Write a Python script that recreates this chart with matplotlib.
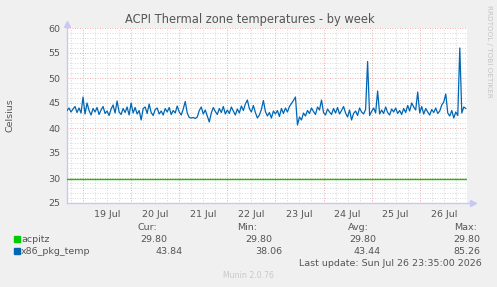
import numpy as np
import matplotlib
matplotlib.use("Agg")
import matplotlib.pyplot as plt

# hours relative to 19 Jul 00:00, one sample per hour
hours = np.arange(-8, 192)

acpitz_value = 29.80

x86_pkg_temp = [
    # 18 Jul 16:00 - 23:00
    43.5, 44.0, 43.2, 43.8, 44.3, 43.1, 44.0, 43.0,
    # 19 Jul
    46.2, 42.8, 45.0, 43.5, 42.6, 43.9, 43.2, 44.1, 42.7, 43.6, 44.3, 42.9,
    43.4, 42.5, 43.8, 44.6, 43.0, 45.4, 43.2, 42.7, 43.9, 43.1, 44.2, 42.6,
    # 20 Jul
    45.0, 43.0, 44.1, 42.8, 43.5, 41.6, 43.9, 44.2, 42.9, 44.8, 43.1, 42.5,
    43.7, 44.0, 42.8, 43.4, 42.6, 43.9, 43.2, 44.1, 42.7, 43.5, 43.0, 44.4,
    # 21 Jul
    43.2, 42.6, 43.8, 45.3, 43.0, 42.1, 42.0, 42.1, 41.9, 42.2, 43.5, 44.2,
    42.8, 43.6, 42.4, 41.2, 43.0, 44.1, 43.3, 42.7, 43.9, 43.1, 44.3, 42.8,
    # 22 Jul
    43.6, 42.9, 44.2, 43.4, 42.6, 43.8, 43.0, 44.4, 43.5, 44.8, 45.6, 43.9,
    43.2, 44.5, 43.1, 42.0, 42.6, 43.7, 45.5, 43.3, 42.4, 43.1, 42.0, 43.4,
    # 23 Jul
    42.8, 43.5, 42.3, 43.9, 42.9, 44.0, 43.2, 44.3, 44.9, 45.5, 46.2, 40.6,
    42.2, 41.6, 43.0, 42.4, 43.5, 42.9, 44.0, 43.3, 42.7, 44.2, 43.6, 45.6,
    # 24 Jul
    43.1, 42.6, 43.8, 43.2, 42.7, 43.9, 43.0, 44.1, 42.8, 43.5, 44.3, 43.0,
    42.2, 43.6, 41.6, 42.9, 43.4, 42.5, 44.0, 43.2, 42.8, 43.7, 53.3, 42.5,
    # 25 Jul
    43.3, 44.0, 43.0, 47.4, 42.8, 43.6, 42.9, 44.2, 43.1, 42.6, 43.8, 43.2,
    44.0, 42.9, 43.5, 42.7, 43.9, 43.1, 44.5, 43.4, 45.0, 44.2, 43.6, 47.2,
    # 26 Jul
    43.0, 44.3, 42.8, 43.9, 43.2, 42.6, 43.7, 43.1, 44.0, 42.9, 43.4, 44.6,
    45.2, 46.8, 43.0, 42.4, 43.5, 42.0, 43.2, 42.5, 56.0, 43.0, 44.2, 43.9,
]

day_labels = ["19 Jul", "20 Jul", "21 Jul", "22 Jul", "23 Jul", "24 Jul", "25 Jul", "26 Jul"]
series_names = ["acpitz", "x86_pkg_temp"]
series_colors = ["#00cc00", "#0066b3"]
stats = {
    "acpitz": ["29.80", "29.80", "29.80", "29.80"],
    "x86_pkg_temp": ["43.84", "38.06", "43.44", "85.26"],
}

W, H = 497, 287
BG = "#f0f0f0"


def fx(px):
    return px / W


def fy(py):
    return 1 - py / H


fig = plt.figure(figsize=(W / 100, H / 100), dpi=100, facecolor=BG)
ax = fig.add_axes([fx(67), fy(203), fx(467) - fx(67), fy(28) - fy(203)])
ax.set_facecolor("white")

x0, x1 = -8, 191.6
ax.set_xlim(x0, x1)
ax.set_ylim(25, 60)

# grid: minor gray, major red
dot = (0, (1, 2))
for v in range(25, 61):
    if v % 5:
        ax.axhline(v, color="#cccccc", lw=0.6, ls=dot, zorder=1)
for h in np.arange(-6, 192, 6):
    if h % 24:
        ax.axvline(h, color="#cccccc", lw=0.6, ls=dot, zorder=1)
for v in range(30, 61, 5):
    ax.axhline(v, color="#e89494", lw=0.6, ls=dot, zorder=1)
for h in range(0, 192, 24):
    ax.axvline(h, color="#e89494", lw=0.6, ls=dot, zorder=1)

# data
ax.plot([x0, x1], [acpitz_value, acpitz_value], color=series_colors[0], lw=1, zorder=3)
ax.plot(hours, x86_pkg_temp, color=series_colors[1], lw=0.9, zorder=3)

# axes styling
for s in ax.spines.values():
    s.set_visible(False)
axc = "#c8c8f4"
ax.plot([0, 0], [0, 1.02], color=axc, lw=1, transform=ax.transAxes, clip_on=False)
ax.plot([0, 1.01], [0, 0], color=axc, lw=1, transform=ax.transAxes, clip_on=False)
ax.plot(0, 1.025, marker="^", ms=4, color=axc, transform=ax.transAxes, clip_on=False)
ax.plot(1.015, 0, marker=">", ms=4, color=axc, transform=ax.transAxes, clip_on=False)

ax.set_yticks(range(25, 61, 5))
ax.set_xticks(np.arange(12, 192, 24), day_labels)
ax.tick_params(length=0, labelsize=6.8, colors="#555555", pad=5)

# texts
fig.text(fx(250), fy(20), "ACPI Thermal zone temperatures - by week",
         ha="center", va="center", fontsize=8.3, color="#555555")
fig.text(fx(10), fy(115), "Celsius", rotation=90, ha="center", va="center",
         fontsize=6.8, color="#555555")
fig.text(fx(489), fy(5), "RRDTOOL / TOBI OETIKER", rotation=270, ha="center", va="top",
         fontsize=5.2, color="#c4c4c4")

tc = "#555555"
fs = 6.8
head_x = [157, 257, 369, 477]
for x, t in zip(head_x, ["Cur:", "Min:", "Avg:", "Max:"]):
    fig.text(fx(x), fy(227), t, ha="right", va="center", fontsize=fs, color=tc)

row_y = [239, 251]
val_x = [[167, 272, 376, 480], [183, 282, 381, 480]]
for i, name in enumerate(series_names):
    fig.patches.append(plt.Rectangle((fx(14), fy(row_y[i] + 3)), fx(6), 6 / H,
                                     color=series_colors[i], transform=fig.transFigure))
    fig.text(fx(21), fy(row_y[i]), name, ha="left", va="center", fontsize=fs, color=tc)
    for x, t in zip(val_x[i], stats[name]):
        fig.text(fx(x), fy(row_y[i]), t, ha="right", va="center", fontsize=fs, color=tc)

fig.text(fx(482), fy(263), "Last update: Sun Jul 26 23:35:00 2026", ha="right",
         va="center", fontsize=fs, color=tc)
fig.text(fx(248), fy(275), "Munin 2.0.76", ha="center", va="center",
         fontsize=5.6, color="#c8c8c8")

fig.savefig("out.png", dpi=100, facecolor=BG)
